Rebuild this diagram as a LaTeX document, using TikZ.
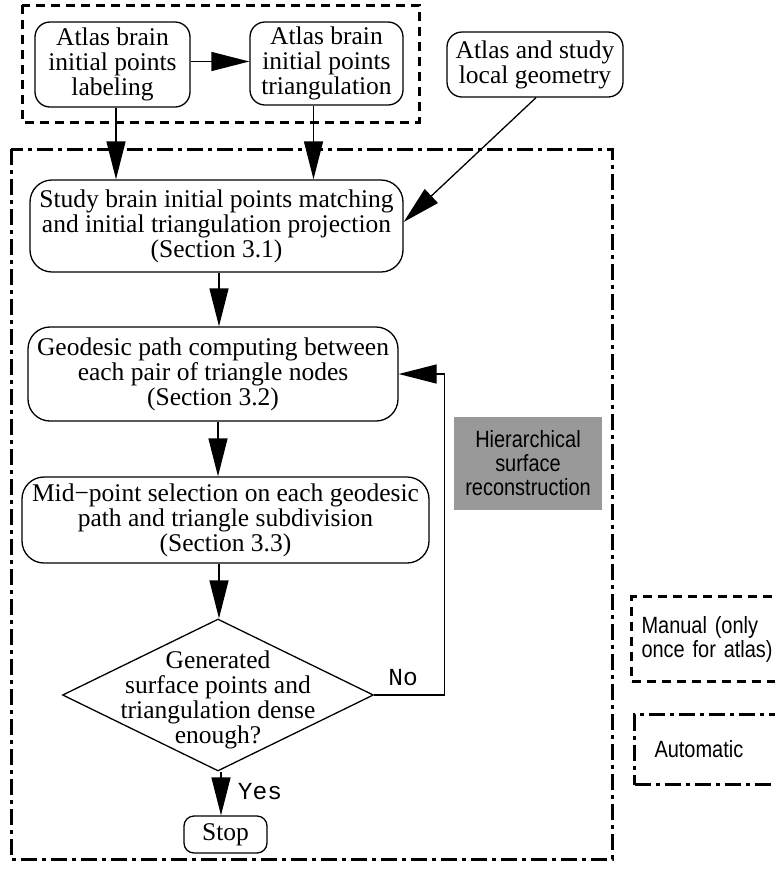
\documentclass[tikz,border=0pt]{standalone}
\usepackage{fontspec}
\setmainfont{Liberation Serif}
\newfontfamily\sansf[FakeStretch=0.85]{Liberation Sans}
\newfontfamily\monof{Liberation Mono}
\usetikzlibrary{shapes.geometric,arrows.meta,positioning}
\tikzset{
  box/.style={draw, line width=1.3pt, rounded corners=15pt, inner sep=0pt, align=center,
    font=\fontsize{25.5}{25}\selectfont},
  bigbox/.style={box, rounded corners=22pt},
  arr/.style={line width=1.3pt, -{Triangle[length=38pt,width=19pt]}},
  manualdash/.style={line width=3pt, dash pattern=on 9pt off 6pt},
  autodash/.style={line width=3pt, dash pattern=on 16pt off 5pt on 4pt off 5pt},
  sanstext/.style={font=\sansf\fontsize{23.5}{24}\selectfont},
  monotext/.style={font=\monof\fontsize{24.5}{25}\selectfont, inner sep=0pt},
}
\begin{document}
\begin{tikzpicture}[x=1pt,y=-1pt]
\useasboundingbox (0,0) rectangle (775,871);
% group frames
\draw[manualdash] (22,5) rectangle (419,122);
\draw[autodash] (11,149) rectangle (612,859);
% nodes
\node[box, minimum width=155, minimum height=85] (lab) at (112.5,64.5) {Atlas brain\\initial points\\labeling};
\node[box, minimum width=153, minimum height=83] (tri) at (326.5,63.5) {Atlas brain\\initial points\\triangulation};
\node[box, minimum width=176, minimum height=65] (loc) at (535,64.5) {Atlas and study\\local geometry};
\node[bigbox, minimum width=373, minimum height=92] (study) at (216.5,226) {Study brain initial points matching\\and initial triangulation projection\\(Section 3.1)};
\node[bigbox, minimum width=370, minimum height=94] (geo) at (213,374) {Geodesic path computing between\\each pair of triangle nodes\\(Section 3.2)};
\node[bigbox, minimum width=407, minimum height=86] (mid) at (225.5,520) {Mid−point selection on each geodesic\\path and triangle subdivision\\(Section 3.3)};
\node[diamond, draw, line width=1.3pt, inner sep=0pt, minimum width=311, minimum height=152,
  label={[font=\fontsize{25.5}{25}\selectfont, align=center, yshift=-5pt]center:Generated\\surface points and\\triangulation dense\\enough?}] (dia) at (218,695) {};
\node[box, rounded corners=10pt, minimum width=83, minimum height=37] (stop) at (225.5,834.5) {Stop};
\node[sanstext, fill={rgb,255:red,153;green,153;blue,153}, minimum width=148, minimum height=93, inner sep=0pt, align=center] (hier) at (528,463) {Hierarchical\\surface\\reconstruction};
% legend
\node[manualdash, draw, sanstext, anchor=north west, text width=150pt, inner xsep=10pt, inner ysep=0pt, minimum height=85, align=left] (legm) at (630,595) {Manual (only\\once for atlas)};
\node[autodash, draw, sanstext, anchor=north west, text width=150pt, inner xsep=20pt, inner ysep=0pt, minimum height=70, align=left] (lega) at (633,713) {Automatic};
% connectors
\draw[arr] ([yshift=3pt]lab.east) -- ([yshift=3pt]lab.east -| tri.west);
\draw[arr] ([xshift=3.5pt]lab.south) -- ([xshift=3.5pt]lab.south |- study.north);
\draw[arr] ([xshift=-13pt]tri.south) -- ([xshift=-13pt]tri.south |- study.north);
\draw[arr] ([xshift=1pt]loc.south) -- ([yshift=4pt]study.east);
\draw[arr] ([xshift=2.5pt]study.south) -- ([xshift=2.5pt]study.south |- geo.north);
\draw[arr] ([xshift=5pt]geo.south) -- ([xshift=5pt]geo.south |- mid.north);
\draw[arr] ([xshift=1pt]dia.north |- mid.south) -- ([xshift=1pt]dia.north);
\draw[arr] ([xshift=3pt]dia.south) -- ([xshift=3pt]dia.south |- stop.north);
\draw[arr] (dia.east) -- ++(70,0) |- (geo.east);
% branch labels
\node[monotext] (no) at (403,678) {No};
\node[monotext] (yes) at (260,792) {Yes};
\end{tikzpicture}
\end{document}
